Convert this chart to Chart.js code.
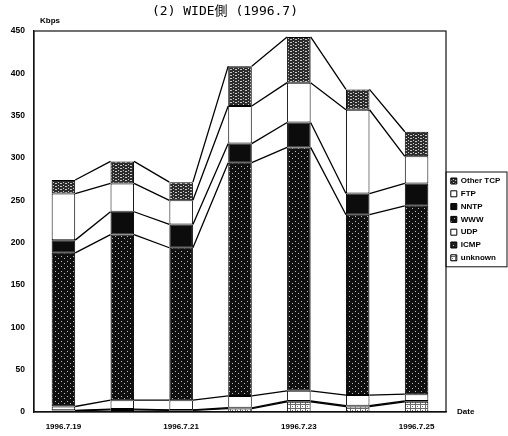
<!DOCTYPE html>
<html>
<head>
<meta charset="utf-8">
<script src="https://cdn.jsdelivr.net/npm/chart.js@4/dist/chart.umd.min.js"></script>
<style>
  html, body { margin: 0; padding: 0; background: #fff; }
  #c { display: block; }
</style>
</head>
<body>
<canvas id="c" width="508" height="436"></canvas>
<script>
// WIDE side traffic by protocol, July 1996 (Kbps)
const dates = ['1996.7.19', '1996.7.20', '1996.7.21', '1996.7.22', '1996.7.23', '1996.7.24', '1996.7.25'];
const shownDates = ['1996.7.19', '1996.7.21', '1996.7.23', '1996.7.25'];
const unknownKbps  = [1.5, 2.5, 2, 4, 12, 6.5, 12];
const icmpKbps     = [0.5, 1, 0.5, 1, 1, 1, 1];
const udpKbps      = [4.5, 10.5, 11.5, 14, 12, 12.5, 8];
const wwwKbps      = [181.5, 195.5, 180, 275.5, 287.5, 213, 222.5];
const nntpKbps     = [15, 27, 27.5, 22.5, 29.5, 25, 26.5];
const ftpKbps      = [55, 33.5, 28.5, 44.5, 47, 99, 32];
const otherTcpKbps = [16, 26, 21.5, 47, 54, 24, 29];
const yMax = 450;
const yStep = 50;

const FONT = '"Liberation Sans", Arial, sans-serif';

// small repeating fills in the style of a monochrome print
function tile(w, h, bg, fg, dots) {
  const cv = document.createElement('canvas');
  cv.width = w; cv.height = h;
  const g = cv.getContext('2d');
  g.fillStyle = bg; g.fillRect(0, 0, w, h);
  g.fillStyle = fg;
  dots.forEach(([x, y, dw, dh]) => g.fillRect(x, y, dw || 1, dh || 1));
  return g.createPattern(cv, 'repeat');
}
const ctx = document.getElementById('c').getContext('2d');
const fillOther = tile(5, 3, '#2c2c2c', '#c8c8c8', [[0, 0, 2, 1], [3, 2, 1, 1]]);
const fillWWW   = tile(6, 5, '#101010', '#bdbdbd', [[1, 1], [4, 3]]);
const fillICMP  = tile(4, 4, '#202020', '#bbbbbb', [[1, 1]]);
const fillUnk   = tile(5, 4, '#ffffff', '#6a6a6a', [[0, 0, 5, 1], [0, 0, 1, 4], [2, 2, 1, 1]]);

const series = [
  { label: 'unknown',   data: unknownKbps,  backgroundColor: fillUnk },
  { label: 'ICMP',      data: icmpKbps,     backgroundColor: fillICMP },
  { label: 'UDP',       data: udpKbps,      backgroundColor: '#ffffff' },
  { label: 'WWW',       data: wwwKbps,      backgroundColor: fillWWW },
  { label: 'NNTP',      data: nntpKbps,     backgroundColor: '#0c0c0c' },
  { label: 'FTP',       data: ftpKbps,      backgroundColor: '#ffffff' },
  { label: 'Other TCP', data: otherTcpKbps, backgroundColor: fillOther }
].map(s => Object.assign(s, {
  borderColor: '#000',
  borderWidth: 1,
  borderSkipped: false,
  categoryPercentage: 1,
  barPercentage: 0.4
}));

// lines joining the top of each layer from one bar to the next
const layerLinks = {
  id: 'layerLinks',
  afterDatasetsDraw(chart) {
    const c = chart.ctx;
    c.save();
    c.strokeStyle = '#000';
    c.lineWidth = 1.3;
    chart.data.datasets.forEach((ds, di) => {
      const bars = chart.getDatasetMeta(di).data;
      c.beginPath();
      for (let i = 0; i < bars.length - 1; i++) {
        const a = bars[i], b = bars[i + 1];
        c.moveTo(a.x + a.width / 2, a.y);
        c.lineTo(b.x - b.width / 2, b.y);
      }
      c.stroke();
    });
    c.restore();
  }
};

// plot frame, legend frame and the free text labels
const frameAndText = {
  id: 'frameAndText',
  afterDraw(chart) {
    const c = chart.ctx;
    const a = chart.chartArea;
    c.save();
    c.strokeStyle = '#111';
    c.lineWidth = 1.2;
    c.strokeRect(a.left, a.top, a.right - a.left, a.bottom - a.top);

    const lg = chart.legend;
    const hb = lg.legendHitBoxes;
    if (hb && hb.length) {
      const top = Math.min(...hb.map(h => h.top)) - 5;
      const bottom = Math.max(...hb.map(h => h.top + h.height)) + 5;
      c.lineWidth = 1;
      c.strokeRect(a.right, top, 507 - a.right, bottom - top);
    }

    c.fillStyle = '#000';
    c.font = '13px "DejaVu Sans Mono", "Noto Sans CJK JP", monospace';
    c.textAlign = 'center';
    c.textBaseline = 'middle';
    c.fillText('(2) WIDE側 (1996.7)', 225, 12);

    c.font = 'bold 8px ' + FONT;
    c.textAlign = 'left';
    c.fillText('Kbps', a.left + 6, 21);
    c.fillText('Date', a.right + 11, a.bottom);
    c.restore();
  }
};

new Chart(ctx, {
  type: 'bar',
  data: { labels: dates, datasets: series },
  options: {
    responsive: false,
    animation: false,
    devicePixelRatio: 1,
    layout: { padding: { top: 31, left: 0, right: 0, bottom: 0 } },
    plugins: {
      tooltip: { enabled: false },
      legend: {
        position: 'right',
        align: 'start',
        reverse: true,
        maxWidth: 62,
        title: { display: true, text: '', font: { size: 1 }, padding: { top: 140, bottom: 0 } },
        labels: {
          boxWidth: 6,
          boxHeight: 6,
          padding: 4.8,
          color: '#000',
          font: { family: FONT, size: 8, weight: 'bold' }
        }
      }
    },
    scales: {
      x: {
        stacked: true,
        grid: { display: false, drawTicks: false },
        border: { display: true, color: '#111', width: 1.2 },
        ticks: {
          color: '#000',
          padding: 10,
          maxRotation: 0,
          autoSkip: false,
          font: { family: FONT, size: 8, weight: 'bold' },
          callback(v) {
            const d = dates[v];
            return shownDates.includes(d) ? d : '';
          }
        },
        afterFit(s) { s.height = 24; }
      },
      y: {
        stacked: true,
        min: 0,
        max: yMax,
        grid: { display: false, drawTicks: false },
        border: { display: true, color: '#111', width: 1.2 },
        ticks: {
          stepSize: yStep,
          color: '#000',
          padding: 9,
          font: { family: FONT, size: 8.5, weight: 'bold' }
        },
        afterFit(s) { s.width = 34; }
      }
    }
  },
  plugins: [layerLinks, frameAndText]
});
</script>
</body>
</html>
